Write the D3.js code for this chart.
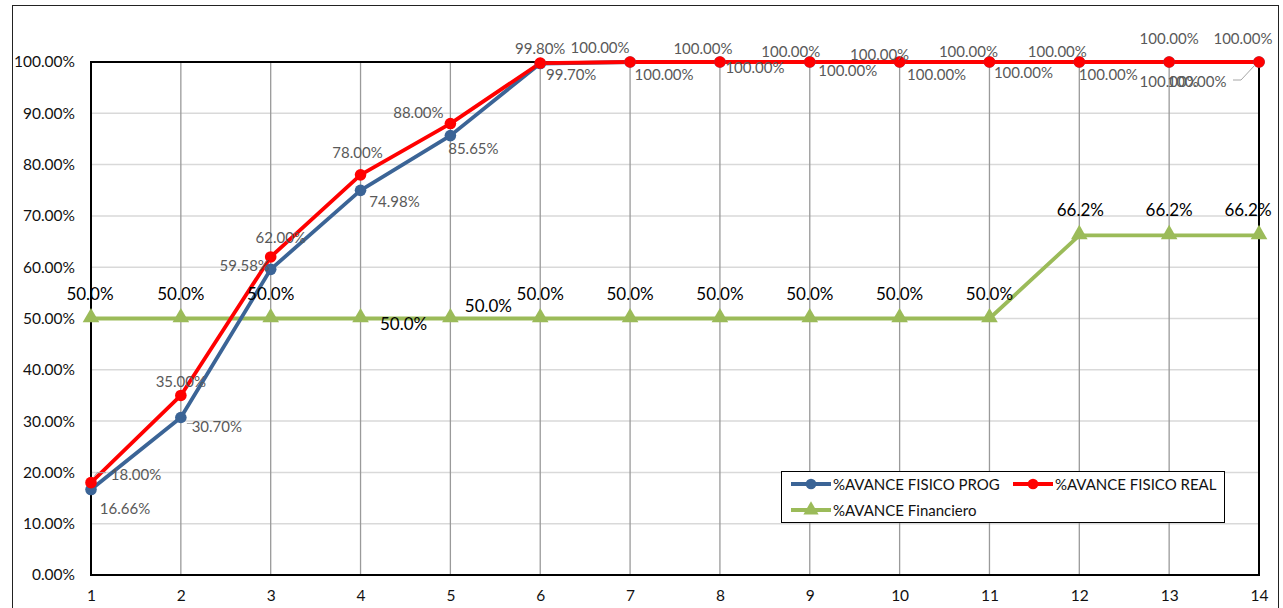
<!DOCTYPE html>
<html>
<head>
<meta charset="utf-8">
<script src="https://cdn.jsdelivr.net/npm/d3@7"></script>
<style>
  body { margin: 0; background: #fff; }
  svg { display: block; font-family: Lato, "Open Sans", sans-serif; }
</style>
</head>
<body>
<svg></svg>
<script>
const periods = [1, 2, 3, 4, 5, 6, 7, 8, 9, 10, 11, 12, 13, 14];
const fisicoProg = [16.66, 30.70, 59.58, 74.98, 85.65, 99.70, 100, 100, 100, 100, 100, 100, 100, 100];
const fisicoReal = [18.00, 35.00, 62.00, 78.00, 88.00, 99.80, 100, 100, 100, 100, 100, 100, 100, 100];
const financiero = [50.0, 50.0, 50.0, 50.0, 50.0, 50.0, 50.0, 50.0, 50.0, 50.0, 50.0, 66.2, 66.2, 66.2];
const yTicks = [0, 10, 20, 30, 40, 50, 60, 70, 80, 90, 100];
const seriesNames = ['%AVANCE FISICO PROG', '%AVANCE FISICO REAL', '%AVANCE Financiero'];

// label offsets (px) as placed in the original sheet
const progOffsets = [[34, 18], [36, 8], [-26, -4], [34, 11], [23, 12], [31, 10], [34, 12],
  [35, 5], [38, 8], [37, 12], [34, 10], [29, 12], [0, 19], [-62, 19]];
const realOffsets = [[45, -9], [0, -14], [10, -20], [-3, -23], [-32, -12], [0, -15], [-30, -15],
  [-17, -14], [-19, -11], [-20, -8], [-21, -11], [-22, -11], [0, -24], [-16, -24]];
const finOffsets = [[-1, -25], [0, -25], [0, -25], [43, 5], [38, -13], [0, -25], [0, -25],
  [0, -25], [0, -25], [0, -25], [0, -25], [1, -26], [0, -26], [-11, -26]];

const W = 1283, H = 608;
const PLOT = { left: 91, right: 1259, top: 62, bottom: 575 };
const BLUE = '#3b6496', RED = '#ff0000', GREEN = '#9bbb59';

const svg = d3.select('svg').attr('width', W).attr('height', H);

const x = d3.scaleLinear().domain([1, 14]).range([PLOT.left, PLOT.right]);
const y = d3.scaleLinear().domain([0, 100]).range([PLOT.bottom, PLOT.top]);

// outer chart frame
svg.append('rect')
    .attr('x', 12.5).attr('y', 5.5)
    .attr('width', 1266).attr('height', 620)
    .attr('fill', 'none').attr('stroke', '#222').attr('stroke-width', 1);

// horizontal gridlines
svg.append('g')
    .selectAll('line')
    .data(yTicks.slice(1, -1))
    .enter()
    .append('line')
    .attr('x1', PLOT.left).attr('x2', PLOT.right)
    .attr('y1', d => y(d)).attr('y2', d => y(d))
    .attr('stroke', '#d9d9d9').attr('stroke-width', 1.5);

// vertical gridlines
svg.append('g')
    .selectAll('line')
    .data(periods.slice(1, -1))
    .enter()
    .append('line')
    .attr('x1', d => x(d)).attr('x2', d => x(d))
    .attr('y1', PLOT.top).attr('y2', PLOT.bottom)
    .attr('stroke', '#9a9a9a').attr('stroke-width', 1.3);

// plot border
svg.append('rect')
    .attr('x', PLOT.left).attr('y', PLOT.top)
    .attr('width', PLOT.right - PLOT.left).attr('height', PLOT.bottom - PLOT.top)
    .attr('fill', 'none').attr('stroke', '#000').attr('stroke-width', 2);

// axes
const yAxis = svg.append('g')
    .attr('transform', `translate(${PLOT.left},0)`)
    .call(d3.axisLeft(y).tickValues(yTicks).tickSize(0).tickPadding(16)
        .tickFormat(d => (d).toFixed(2) + '%'));
yAxis.select('.domain').remove();
yAxis.selectAll('text').attr('font-size', 15.5).attr('fill', '#111').attr('font-family', 'Lato, sans-serif');

const xAxis = svg.append('g')
    .attr('transform', `translate(0,${PLOT.bottom})`)
    .call(d3.axisBottom(x).tickValues(periods).tickSize(0).tickPadding(15)
        .tickFormat(d3.format('d')));
xAxis.select('.domain').remove();
xAxis.selectAll('text').attr('font-size', 15.5).attr('fill', '#111').attr('font-family', 'Lato, sans-serif');

const line = d3.line().x((d, i) => x(periods[i])).y(d => y(d));

function drawSeries(values, color) {
    svg.append('path')
        .datum(values)
        .attr('d', line)
        .attr('fill', 'none')
        .attr('stroke', color)
        .attr('stroke-width', 3.8)
        .attr('stroke-linejoin', 'round');
}

drawSeries(financiero, GREEN);
drawSeries(fisicoProg, BLUE);
drawSeries(fisicoReal, RED);

// markers
svg.append('g').selectAll('path')
    .data(financiero)
    .enter()
    .append('path')
    .attr('d', d3.symbol().type(d3.symbolTriangle).size(120))
    .attr('transform', (d, i) => `translate(${x(periods[i])},${y(d) - 1})`)
    .attr('fill', GREEN);

svg.append('g').selectAll('circle')
    .data(fisicoProg)
    .enter()
    .append('circle')
    .attr('cx', (d, i) => x(periods[i]))
    .attr('cy', d => y(d))
    .attr('r', 5.8)
    .attr('fill', BLUE);

svg.append('g').selectAll('circle')
    .data(fisicoReal)
    .enter()
    .append('circle')
    .attr('cx', (d, i) => x(periods[i]))
    .attr('cy', d => y(d))
    .attr('r', 5.8)
    .attr('fill', RED);

// leader lines for moved labels
const leaders = [
    [[x(1) + 3, y(fisicoReal[0]) - 6], [x(1) + 6, y(fisicoReal[0]) - 10], [x(1) + 15, y(fisicoReal[0]) - 10]],
    [[x(2) + 6, y(fisicoProg[1]) + 6], [x(2) + 13, y(fisicoProg[1]) + 6]],
    [[x(14) - 4, y(fisicoProg[13]) + 3], [x(14) - 18, y(fisicoProg[13]) + 18], [x(14) - 26, y(fisicoProg[13]) + 18]]
];
svg.append('g').selectAll('path')
    .data(leaders)
    .enter()
    .append('path')
    .attr('d', d => d3.line()(d))
    .attr('fill', 'none')
    .attr('stroke', '#a6a6a6')
    .attr('stroke-width', 1);

function drawLabels(values, offsets, fmt, color, size) {
    svg.append('g').selectAll('text')
        .data(values)
        .enter()
        .append('text')
        .attr('x', (d, i) => x(periods[i]) + offsets[i][0])
        .attr('y', (d, i) => y(d) + offsets[i][1])
        .attr('text-anchor', 'middle')
        .attr('dominant-baseline', 'central')
        .attr('font-size', size)
        .attr('fill', color)
        .text(fmt);
}

drawLabels(fisicoProg, progOffsets, d => d.toFixed(2) + '%', '#595959', 15);
drawLabels(fisicoReal, realOffsets, d => d.toFixed(2) + '%', '#595959', 15);
drawLabels(financiero, finOffsets, d => d.toFixed(1) + '%', '#000', 17);

// legend
const legend = svg.append('g');
legend.append('rect')
    .attr('x', 781.5).attr('y', 471.5)
    .attr('width', 443).attr('height', 51)
    .attr('fill', '#fff').attr('stroke', '#000').attr('stroke-width', 1);

const legendItems = [
    { name: seriesNames[0], color: BLUE, shape: 'circle', lx: 791, ly: 484 },
    { name: seriesNames[1], color: RED, shape: 'circle', lx: 1013, ly: 484 },
    { name: seriesNames[2], color: GREEN, shape: 'triangle', lx: 791, ly: 510 }
];
const item = legend.selectAll('.item')
    .data(legendItems)
    .enter()
    .append('g')
    .attr('transform', d => `translate(${d.lx},${d.ly})`);
item.append('line')
    .attr('x1', 0).attr('x2', 40)
    .attr('stroke', d => d.color).attr('stroke-width', 3.8);
item.append('path')
    .attr('d', d => d3.symbol().type(d.shape === 'circle' ? d3.symbolCircle : d3.symbolTriangle).size(d.shape === 'circle' ? 90 : 100)())
    .attr('transform', 'translate(20,0)')
    .attr('fill', d => d.color);
item.append('text')
    .attr('x', 42)
    .attr('dominant-baseline', 'central')
    .attr('font-size', 15)
    .attr('fill', '#111')
    .text(d => d.name);
</script>
</body>
</html>
